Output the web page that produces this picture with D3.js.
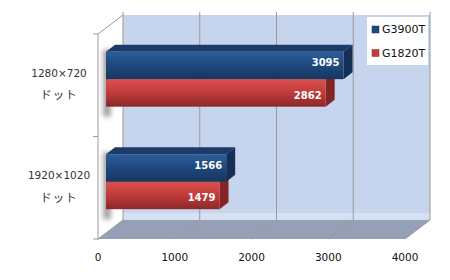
<!DOCTYPE html>
<html>
<head>
<meta charset="utf-8">
<script src="https://cdn.jsdelivr.net/npm/d3@7"></script>
<style>
  body { margin: 0; background: #fff; }
  svg { display: block; }
</style>
</head>
<body>
<script>
/* Data */
var categories = ["1280×720", "1920×1020"],
    catSub = ["ドット", "ドット"],
    series = ["G3900T", "G1820T"],
    g3900t = [3095, 1566],
    g1820t = [2862, 1479],
    xTicks = [0, 1000, 2000, 3000, 4000];

var values = [g3900t, g1820t];

/* Display setup */
var width = 450, height = 280,
    front = {left: 98, right: 405, top: 34, bottom: 239},
    depth = {dx: 25, dy: -19},
    barFront = 0.32, barBack = 0.68,
    barH = 27.5;

var x = d3.scaleLinear().domain([0, 4000]).range([front.left, front.right]),
    y = d3.scaleBand().domain(categories).range([front.top, front.bottom]),
    ySeries = d3.scaleBand().domain(series).range([-barH, barH]),
    colors = {
      "G3900T": {top: "#1b3b68", side: "#152f55", c0: "#2f5d98", c1: "#1f4a80", c2: "#163660"},
      "G1820T": {top: "#a83232", side: "#852424", c0: "#d9514f", c1: "#c43c3c", c2: "#8c2828"}
    };

var svg = d3.select("body").append("svg")
    .attr("width", width)
    .attr("height", height)
    .style("font-family", "'DejaVu Sans', 'Noto Sans CJK JP', sans-serif");

var defs = svg.append("defs");
series.forEach(function(s, i) {
  var gr = defs.append("linearGradient").attr("id", "grad" + i)
      .attr("x1", 0).attr("y1", 0).attr("x2", 0).attr("y2", 1);
  gr.append("stop").attr("offset", "0%").attr("stop-color", colors[s].c0);
  gr.append("stop").attr("offset", "45%").attr("stop-color", colors[s].c1);
  gr.append("stop").attr("offset", "100%").attr("stop-color", colors[s].c2);
});
defs.append("filter").attr("id", "blur")
    .attr("x", "-50%").attr("y", "-50%").attr("width", "200%").attr("height", "200%")
  .append("feGaussianBlur").attr("stdDeviation", 2.5);
defs.append("clipPath").attr("id", "leftwall")
  .append("polygon")
    .attr("points", [[front.left, front.top], [front.left + depth.dx, front.top + depth.dy],
      [front.left + depth.dx, front.bottom + depth.dy], [front.left, front.bottom]].join(" "));

function pt(v, yy, t) { // value, front-plane y, depth fraction
  return [x(v) + depth.dx * t, yy + depth.dy * t];
}

/* Back wall */
var wallTop = front.top + depth.dy, wallBottom = front.bottom + depth.dy;
svg.append("rect")
    .attr("x", x(0) + depth.dx).attr("y", wallTop)
    .attr("width", x(4000) - x(0)).attr("height", wallBottom - wallTop)
    .style("fill", "#c6d4ee");
svg.append("rect")
    .attr("x", x(0) + depth.dx).attr("y", wallBottom - 7)
    .attr("width", x(4000) - x(0)).attr("height", 7)
    .style("fill", "#d6e0f3");

/* Floor */
svg.append("polygon")
    .attr("points", [[x(0), front.bottom], [x(0) + depth.dx, wallBottom],
      [x(4000) + depth.dx, wallBottom], [x(4000), front.bottom]].join(" "))
    .style("fill", "#959fb5");

/* Grid lines */
svg.selectAll("line.grid").data(xTicks).enter().append("line")
    .attr("class", "grid")
    .attr("x1", function(d) { return x(d) + depth.dx; })
    .attr("x2", function(d) { return x(d) + depth.dx; })
    .attr("y1", wallTop - 3).attr("y2", wallBottom)
    .style("stroke", "#9a9a9a").style("stroke-width", 1);
svg.selectAll("line.floorgrid").data(xTicks).enter().append("line")
    .attr("class", "floorgrid")
    .attr("x1", function(d) { return x(d); })
    .attr("x2", function(d) { return x(d) + depth.dx; })
    .attr("y1", front.bottom).attr("y2", wallBottom)
    .style("stroke", "#9a9a9a").style("stroke-width", 1);
svg.append("line")
    .attr("x1", x(0)).attr("y1", front.top)
    .attr("x2", x(0) + depth.dx).attr("y2", wallTop)
    .style("stroke", "#9a9a9a");

/* Left axis */
svg.append("line")
    .attr("x1", x(0)).attr("x2", x(0))
    .attr("y1", front.top).attr("y2", front.bottom + 1)
    .style("stroke", "#9a9a9a");
var bounds = categories.map(function(c) { return y(c); }).concat([front.bottom]);
svg.selectAll("line.ytick").data(bounds).enter().append("line")
    .attr("class", "ytick")
    .attr("x1", x(0) - 5).attr("x2", x(0))
    .attr("y1", function(d) { return d; }).attr("y2", function(d) { return d; })
    .style("stroke", "#9a9a9a");

/* Shadows of the bars on the left wall */
var shadowG = svg.append("g").attr("clip-path", "url(#leftwall)");
categories.forEach(function(c, ci) {
  var cy = y(c) + y.bandwidth() / 2;
  shadowG.append("rect")
      .attr("x", x(0) + 5).attr("y", cy - barH - 8)
      .attr("width", 8).attr("height", barH * 2 + 12)
      .style("fill", "#666").style("opacity", 0.6)
      .attr("filter", "url(#blur)");
});

/* Bars */
var barsG = svg.append("g");
categories.forEach(function(c, ci) {
  var cy = y(c) + y.bandwidth() / 2;
  // draw back series (lower) first so upper top face stays visible
  series.slice().reverse().forEach(function(s) {
    var si = series.indexOf(s),
        v = values[si][ci],
        yTop = cy + ySeries(s),
        yBot = yTop + ySeries.bandwidth(),
        g = barsG.append("g");
    var f0 = pt(0, yTop, barFront), f1 = pt(v, yTop, barFront),
        b0 = pt(0, yTop, barBack), b1 = pt(v, yTop, barBack),
        f2 = pt(v, yBot, barFront), b2 = pt(v, yBot, barBack);
    g.append("polygon")
        .attr("points", [f0, b0, b1, f1].join(" "))
        .style("fill", colors[s].top);
    g.append("polygon")
        .attr("points", [f1, b1, b2, f2].join(" "))
        .style("fill", colors[s].side);
    g.append("rect")
        .attr("x", f0[0]).attr("y", f0[1])
        .attr("width", f1[0] - f0[0]).attr("height", yBot - yTop)
        .style("fill", "url(#grad" + si + ")");
    g.append("text")
        .attr("x", f1[0] - 4)
        .attr("y", (f0[1] + f2[1]) / 2 + (si === 0 ? -2.5 : 2.5))
        .attr("dy", "0.35em")
        .attr("text-anchor", "end")
        .style("font-size", "10px").style("font-weight", "bold")
        .style("fill", "#fff")
        .text(v);
  });
});

/* X tick labels */
svg.selectAll("text.xtick").data(xTicks).enter().append("text")
    .attr("class", "xtick")
    .attr("x", function(d) { return x(d); })
    .attr("y", 257.5).attr("dy", "0.35em")
    .attr("text-anchor", "middle")
    .style("font-size", "10.5px").style("fill", "#111")
    .text(function(d) { return d; });

/* Category labels */
categories.forEach(function(c, ci) {
  var cy = y(c) + y.bandwidth() / 2 + depth.dy * barFront;
  svg.append("text")
      .attr("x", 59).attr("y", cy - 6).attr("dy", "0.35em")
      .attr("text-anchor", "middle")
      .style("font-size", "10.5px").style("fill", "#333")
      .text(c);
  svg.append("text")
      .attr("x", 59).attr("y", cy + 16).attr("dy", "0.35em")
      .attr("text-anchor", "middle")
      .style("font-size", "11.5px").style("letter-spacing", "1px").style("fill", "#333")
      .text(catSub[ci]);
});

/* Legend */
var legend = svg.append("g").attr("transform", "translate(367,17)");
legend.append("rect")
    .attr("width", 61).attr("height", 48)
    .style("fill", "#fff");
series.forEach(function(s, i) {
  var row = legend.append("g").attr("transform", "translate(0," + (12.5 + i * 23.5) + ")");
  row.append("rect")
      .attr("x", 5).attr("y", -3.5).attr("width", 7).attr("height", 7)
      .style("fill", colors[s].c1).style("stroke", colors[s].c2).style("stroke-width", 0.5);
  row.append("text")
      .attr("x", 15).attr("dy", "0.35em")
      .style("font-size", "11px").style("fill", "#111")
      .text(s);
});
</script>
</body>
</html>
